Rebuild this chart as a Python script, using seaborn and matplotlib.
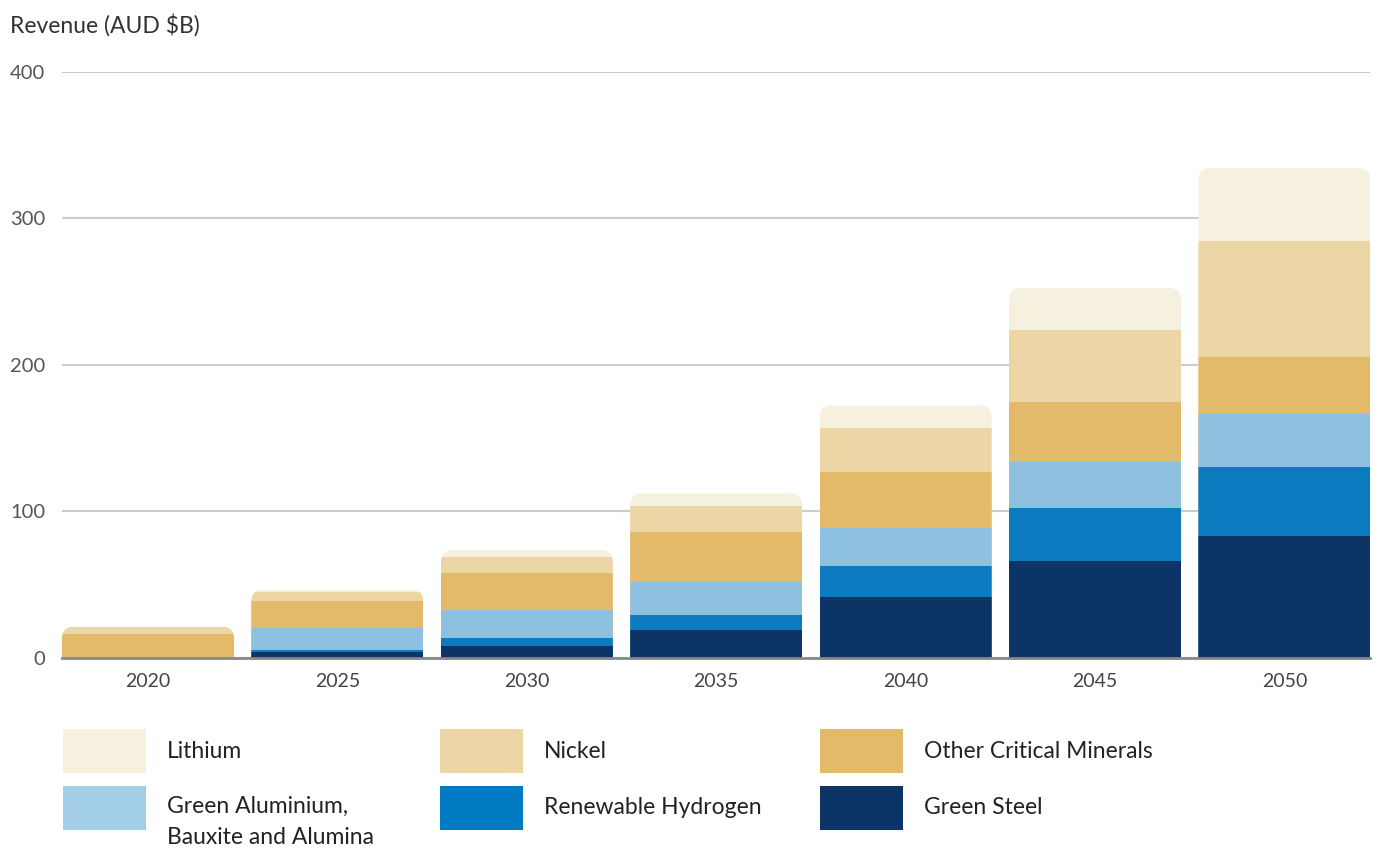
import numpy as np
import pandas as pd
import seaborn as sns
import matplotlib.pyplot as plt
from matplotlib.patches import FancyBboxPatch, Rectangle

sns.set_theme(style="white")
plt.rcParams['font.family'] = ['Lato', 'DejaVu Sans']

# data (AUD $B)
years = ["2020", "2025", "2030", "2035", "2040", "2045", "2050"]
green_steel = [0.0, 4.1, 8.2, 18.9, 41.4, 66.2, 83.3]
hydrogen = [0.0, 1.2, 5.5, 10.2, 21.4, 36.2, 47.1]
aluminium = [0.5, 15.0, 19.1, 22.7, 25.9, 31.4, 36.2]
other_minerals = [16.0, 18.4, 25.3, 33.9, 38.2, 41.0, 38.7]
nickel = [4.4, 6.0, 10.5, 18.0, 30.0, 48.9, 79.2]
lithium = [0.5, 2.0, 5.0, 8.7, 15.5, 28.9, 50.0]

labels = ["Lithium", "Nickel", "Other Critical Minerals",
          "Green Aluminium,\nBauxite and Alumina", "Renewable Hydrogen", "Green Steel"]
bar_colors = ["#F6F0DF", "#EDD6A5", "#E3BA6A", "#8EC1E0", "#0C7BC0", "#0C3466"]
legend_colors = ["#F6F0DF", "#EDD6A5", "#E3BA6A", "#A2CEE8", "#007BC4", "#0C3466"]

# top to bottom order
series = [lithium, nickel, other_minerals, aluminium, hydrogen, green_steel]

fig = plt.figure(figsize=(13.78, 8.48), dpi=100)
ax = fig.add_axes([0.045, 0.2241, 0.9495, 0.691])

bar_w = 0.908
arr = np.array(series)
totals = arr.sum(axis=0)

# overlay cumulative sums, tallest first
containers = []
for i, col in enumerate(bar_colors):
    cum = arr[i:].sum(axis=0)
    df = pd.DataFrame({"year": years, "value": cum})
    sns.barplot(data=df, x="year", y="value", color=col, saturation=1,
                width=bar_w, ax=ax, errorbar=None, zorder=3, linewidth=0)
    containers.append(ax.containers[-1])

# rounded top corners: clip every bar of a year to a rounded box
r_x = 0.064
r_y = 8.3
for j, tot in enumerate(totals):
    clip = FancyBboxPatch((j - bar_w / 2, -20), bar_w, tot + 20,
                          boxstyle=f"round,pad=0,rounding_size={r_x}",
                          mutation_aspect=r_y / r_x,
                          transform=ax.transData, facecolor="none",
                          edgecolor="none")
    ax.add_patch(clip)
    for c in containers:
        c.patches[j].set_clip_path(clip)

ax.set_xlim(-bar_w / 2, len(years) - 1 + bar_w / 2)
ax.set_ylim(0, 400)
ax.set_yticks([0, 100, 200, 300, 400])
ax.yaxis.grid(True, color="#CCCCCC", linewidth=1.5, zorder=0)
ax.set_axisbelow(True)
for s in ["top", "right", "left"]:
    ax.spines[s].set_visible(False)
ax.spines["bottom"].set_color("#888888")
ax.spines["bottom"].set_linewidth(2)
ax.spines["bottom"].set_zorder(5)
ax.tick_params(axis="y", length=0, pad=12, labelsize=14.5, labelcolor="#555555")
ax.tick_params(axis="x", length=0, pad=11, labelsize=14, labelcolor="#444444")
ax.set_xlabel("")
ax.set_ylabel("")

fig.text(10 / 1378, 1 - 25 / 848, "Revenue (AUD $B)", fontsize=16.5,
         color="#333333", va="center", ha="left")

# legend drawn by hand: 3 columns, 2 rows
W, H = 1378, 848
col_x = [63, 440, 820]
row_y = [729, 786]
sw_w, sw_h = 83, 44
for k, (lab, col) in enumerate(zip(labels, legend_colors)):
    r, c = divmod(k, 3)
    x0, y0 = col_x[c], row_y[r]
    fig.add_artist(Rectangle((x0 / W, 1 - (y0 + sw_h) / H), sw_w / W, sw_h / H,
                             transform=fig.transFigure, facecolor=col,
                             edgecolor="none"))
    if "\n" in lab:
        fig.text((x0 + 104) / W, 1 - (y0 + 10) / H, lab, fontsize=16.5,
                 color="#222222", va="top", ha="left", linespacing=1.6)
    else:
        fig.text((x0 + 104) / W, 1 - (y0 + sw_h / 2) / H, lab, fontsize=16.5,
                 color="#222222", va="center", ha="left")

fig.savefig("out.png", dpi=100)
